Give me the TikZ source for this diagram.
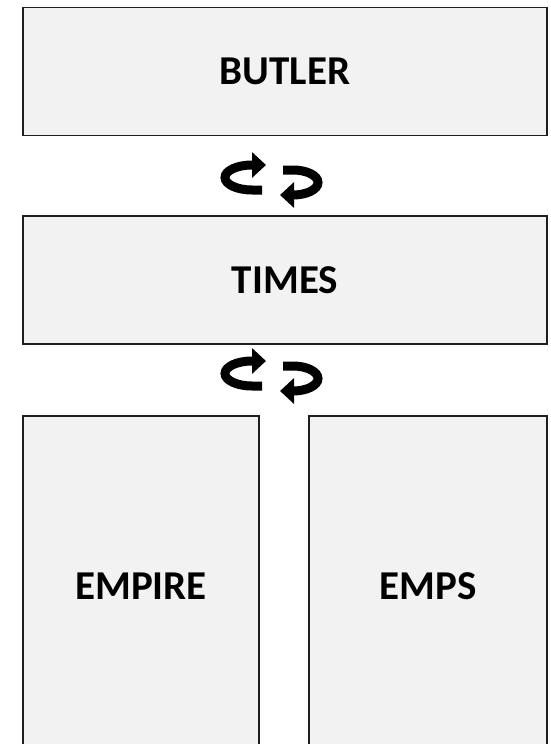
\documentclass[tikz,border=0pt]{standalone}
\usepackage{fontspec}
\setmainfont{Carlito}
\usetikzlibrary{arrows.meta}
\begin{document}
\begin{tikzpicture}[x=1pt,y=1pt,
  box/.style={draw=black!88,line width=1.8pt,fill=black!5,inner sep=0pt,
    font=\bfseries\fontsize{41}{48}\selectfont,text=black},
  cyc/.style={line width=9pt,-{Triangle[length=14pt,width=25pt]}}]
\useasboundingbox (0,0) rectangle (550,-744);
\clip (0,0) rectangle (550,-744);
\node[box,minimum width=524pt,minimum height=128pt] (butler) at (285,-71.5) {BUTLER};
\node[box,minimum width=524pt,minimum height=128pt] (times) at (285,-280) {TIMES};
\node[box,minimum width=236pt,minimum height=340pt] (empire) at (141,-586) {EMPIRE};
\node[box,minimum width=238pt,minimum height=340pt] (emps) at (428,-586) {EMPS};
% rotation arrows between the boxes
\coordinate (c1) at (0,0);
\coordinate (c2) at (0,-196);
\foreach \c in {c1,c2}{
  \begin{scope}[shift={(\c)}]
    \draw[cyc] (262,-190) -- (252,-190) arc[start angle=270,end angle=90,x radius=27,y radius=12.5] -- (266,-165);
    \draw[cyc] (283,-170) -- (293,-170) arc[start angle=90,end angle=-90,x radius=25,y radius=12.5] -- (280,-195);
  \end{scope}
}
\end{tikzpicture}
\end{document}
